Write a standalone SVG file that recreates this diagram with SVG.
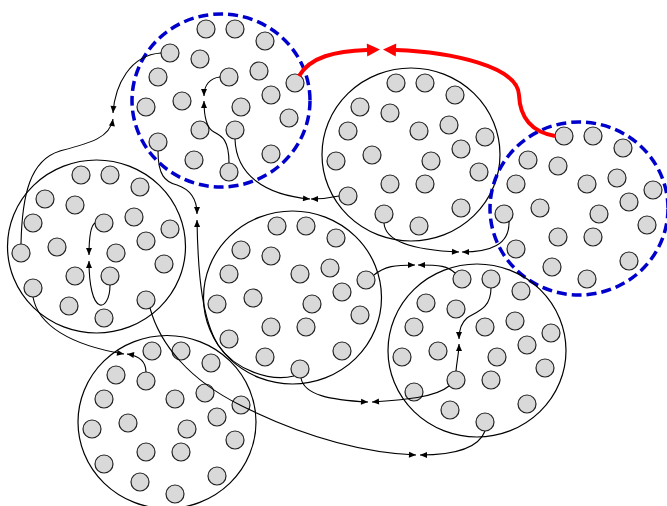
<svg xmlns="http://www.w3.org/2000/svg" xmlns:xlink="http://www.w3.org/1999/xlink" width="667" height="506" viewBox="0 0 667 506">
<style>
.cl{fill:none;stroke:#000;stroke-width:1.2}
.hl{fill:none;stroke:#0000cc;stroke-width:3.5;stroke-dasharray:10 5}
.n{fill:#d9d9d9;stroke:#222;stroke-width:1.2}
.e{fill:none;stroke:#000;stroke-width:1.1;marker-end:url(#ah)}
.r{fill:none;stroke:#ff0000;stroke-width:4;marker-end:url(#rh)}
</style>
<defs>
<marker id="ah" markerUnits="userSpaceOnUse" markerWidth="8" markerHeight="8" refX="7" refY="3" orient="auto" overflow="visible"><path d="M0,0 L7,3 L0,6 z" fill="#000"/></marker>
<marker id="rh" markerUnits="userSpaceOnUse" markerWidth="14" markerHeight="14" refX="0" refY="6.5" orient="auto" overflow="visible"><path d="M0,0 L13,6.5 L0,13 z" fill="#ff0000"/></marker>
<g id="pts">
<circle class="n" cx="-15" cy="-71" r="9"/><circle class="n" cx="14" cy="-71" r="9"/><circle class="n" cx="44" cy="-59" r="9"/><circle class="n" cx="-51" cy="-47" r="9"/><circle class="n" cx="-21" cy="-41" r="9"/>
<circle class="n" cx="-63" cy="-23" r="9"/><circle class="n" cx="8" cy="-23" r="9"/><circle class="n" cx="38" cy="-29" r="9"/><circle class="n" cx="74" cy="-17" r="9"/><circle class="n" cx="50" cy="-5" r="9"/>
<circle class="n" cx="-75" cy="7" r="9"/><circle class="n" cx="-39" cy="1" r="9"/><circle class="n" cx="20" cy="7" r="9"/><circle class="n" cx="68" cy="18" r="9"/><circle class="n" cx="-21" cy="30" r="9"/>
<circle class="n" cx="14" cy="30" r="9"/><circle class="n" cx="-63" cy="42" r="9"/><circle class="n" cx="-27" cy="60" r="9"/><circle class="n" cx="8" cy="72" r="9"/><circle class="n" cx="50" cy="54" r="9"/>
</g>
</defs>
<rect width="667" height="506" fill="#fff"/>
<g id="cluster1"><ellipse class="hl" cx="221" cy="100.5" rx="89" ry="86.5"/><use xlink:href="#pts" transform="translate(221,100)"/></g>
<g id="cluster2"><ellipse class="cl" cx="411" cy="154.5" rx="89" ry="86.5"/><use xlink:href="#pts" transform="translate(411,154)"/></g>
<g id="cluster3"><ellipse class="hl" cx="579" cy="208.5" rx="89" ry="86.5"/><use xlink:href="#pts" transform="translate(579,207)"/></g>
<g id="cluster4"><ellipse class="cl" cx="96.5" cy="246.5" rx="89" ry="86.5"/><use xlink:href="#pts" transform="translate(96,246)"/></g>
<g id="cluster5"><ellipse class="cl" cx="292.5" cy="297.5" rx="89" ry="86.5"/><use xlink:href="#pts" transform="translate(292,297)"/></g>
<g id="cluster6"><ellipse class="cl" cx="477" cy="350.5" rx="89" ry="86.5"/><use xlink:href="#pts" transform="translate(477,350)"/></g>
<g id="cluster7"><ellipse class="cl" cx="167" cy="422" rx="89" ry="86.5"/><use xlink:href="#pts" transform="translate(167,422)"/></g>
<g id="connectors">
<path class="e" d="M161,53 C130,55 115,85 113,113"/>
<path class="e" d="M21,244 C22,195 30,160 60,151 C90,143 110,138 113,119"/>
<path class="e" d="M220,77 C210,78 204,85 204,96"/>
<path class="e" d="M229,163 C229,140 222,136 214,132 C206,128 204,115 204,101"/>
<path class="e" d="M95,223 C90,226 89,240 89,255"/>
<path class="e" d="M110,285 C110,300 104,306 100,305 C93,303 89,285 89,261"/>
<path class="e" d="M158,151 C158,175 165,182 177,185 C192,190 197,200 197,214"/>
<path class="e" d="M294,376 C270,382 235,370 218,345 C203,320 198,280 197,220"/>
<path class="e" d="M235,139 C236,175 265,195 310,199"/>
<path class="e" d="M339,196 C330,198 320,199 311,199"/>
<path class="e" d="M384,223 C385,240 410,250 459,252"/>
<path class="e" d="M509,221 C510,245 490,252 462,252"/>
<path class="e" d="M374,275 C385,266 395,265 415,265"/>
<path class="e" d="M455,273 C448,266 440,265 418,265"/>
<path class="e" d="M491,288 C491,310 475,312 467,318 C461,323 459,330 459,339"/>
<path class="e" d="M456,371 C457,360 459,352 459,344"/>
<path class="e" d="M301,378 C304,395 330,400 368,402"/>
<path class="e" d="M449,386 C435,398 400,400 372,402"/>
<path class="e" d="M150,308 C160,345 190,380 240,405 C290,430 350,452 416,455"/>
<path class="e" d="M485,431 C478,450 450,455 420,455"/>
<path class="e" d="M33,297 C38,325 70,345 124,354"/>
<path class="e" d="M146,372 C146,362 140,356 127,354"/>
<path class="r" d="M299,76 C310,57 335,51 367,50"/>
<path class="r" d="M555,136 C532,132 520,118 519,95 C518,66 450,52 396,50"/>
</g>
</svg>
